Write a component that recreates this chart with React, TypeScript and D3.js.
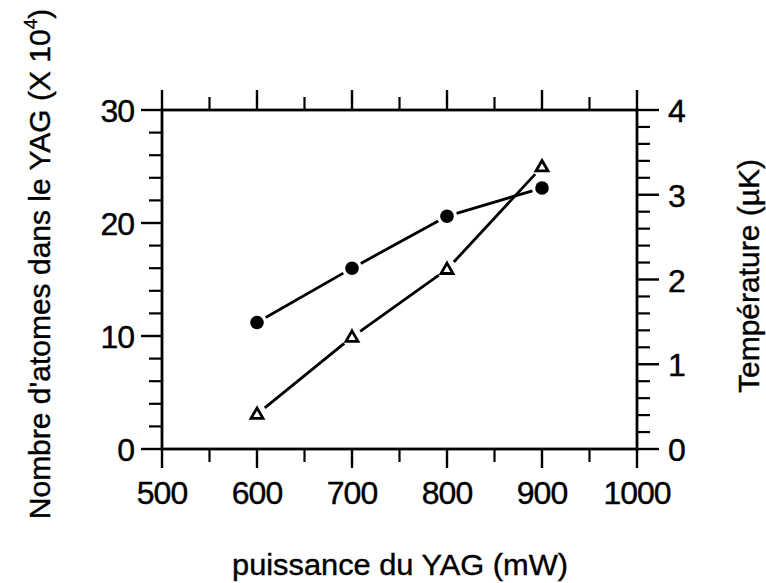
import React from "react";
import * as d3 from "d3";

const powers = [600, 700, 800, 900];
const atoms = [11.2, 16.0, 20.6, 23.1];
const temperature = [0.41, 1.32, 2.12, 3.33];
const xTicks = [500, 600, 700, 800, 900, 1000];
const leftTicks = [0, 10, 20, 30];
const rightTicks = [0, 1, 2, 3, 4];

const W = 766;
const H = 583;
const FONT = "'Liberation Sans', Arial, Helvetica, sans-serif";

export default function App() {
  const x = d3.scaleLinear().domain([500, 1000]).range([162, 637]);
  const yL = d3.scaleLinear().domain([0, 30]).range([449, 110]);
  const yR = d3.scaleLinear().domain([0, 4]).range([449, 110]);
  const [x0, x1] = x.range();
  const [yB, yT] = yL.range();

  const xMinor = d3.range(500, 1001, 50).filter((v) => v % 100 !== 0);
  const lMinor = d3.range(0, 31, 2).filter((v) => v % 10 !== 0);
  const rMinor = d3.range(0, 4.01, 0.2).filter((v) => Math.abs(v - Math.round(v)) > 1e-6);

  const segs = (ys: number[], yScale: d3.ScaleLinear<number, number>, gap: number) => {
    const out: JSX.Element[] = [];
    for (let i = 0; i < powers.length - 1; i++) {
      const ax = x(powers[i]), ay = yScale(ys[i]);
      const bx = x(powers[i + 1]), by = yScale(ys[i + 1]);
      const dx = bx - ax, dy = by - ay;
      const len = Math.hypot(dx, dy);
      const ux = dx / len, uy = dy / len;
      out.push(
        <line key={i} x1={ax + ux * gap} y1={ay + uy * gap} x2={bx - ux * gap} y2={by - uy * gap}
          stroke="#000" strokeWidth={2.8} />
      );
    }
    return out;
  };

  const tri = (cx: number, cy: number) => {
    const s = 12;
    const h = s * Math.sqrt(3) / 2;
    return `M${cx},${cy - h * 0.6} L${cx + s / 2},${cy + h * 0.4} L${cx - s / 2},${cy + h * 0.4} Z`;
  };

  const txt = { stroke: "#000", strokeWidth: 0.4 };

  return (
    <svg width={W} height={H} style={{ position: "absolute", left: 0, top: 0, background: "#fff" }}
      fontFamily={FONT}>
      <rect x={0} y={0} width={W} height={H} fill="#fff" />
      {/* frame */}
      <rect x={x0} y={yT} width={x1 - x0} height={yB - yT} fill="none" stroke="#000" strokeWidth={2.8} />

      {/* bottom & top ticks */}
      {xTicks.map((v) => (
        <g key={"xt" + v}>
          <line x1={x(v)} x2={x(v)} y1={yB} y2={yB + 19} stroke="#000" strokeWidth={2.4} />
          <line x1={x(v)} x2={x(v)} y1={yT} y2={yT - 20} stroke="#000" strokeWidth={2.4} />
          <text x={x(v)} y={504} textAnchor="middle" fontSize={32} letterSpacing={-1} {...txt}>{v}</text>
        </g>
      ))}
      {xMinor.map((v) => (
        <g key={"xm" + v}>
          <line x1={x(v)} x2={x(v)} y1={yB} y2={yB + 13} stroke="#000" strokeWidth={2.2} />
          <line x1={x(v)} x2={x(v)} y1={yT} y2={yT - 13} stroke="#000" strokeWidth={2.2} />
        </g>
      ))}

      {/* left axis */}
      {leftTicks.map((v) => (
        <g key={"lt" + v}>
          <line x1={x0} x2={x0 - 21} y1={yL(v)} y2={yL(v)} stroke="#000" strokeWidth={2.4} />
          <text x={134} y={yL(v) + 12} textAnchor="end" fontSize={32} letterSpacing={-1} {...txt}>{v}</text>
        </g>
      ))}
      {lMinor.map((v) => (
        <line key={"lm" + v} x1={x0} x2={x0 - 13} y1={yL(v)} y2={yL(v)} stroke="#000" strokeWidth={2.2} />
      ))}

      {/* right axis */}
      {rightTicks.map((v) => (
        <g key={"rt" + v}>
          <line x1={x1} x2={x1 + 22} y1={yR(v)} y2={yR(v)} stroke="#000" strokeWidth={2.4} />
          <text x={668} y={yR(v) + 12} textAnchor="start" fontSize={32} {...txt}>{v}</text>
        </g>
      ))}
      {rMinor.map((v) => (
        <line key={"rm" + v} x1={x1} x2={x1 + 13} y1={yR(v)} y2={yR(v)} stroke="#000" strokeWidth={2.2} />
      ))}

      {/* series: atoms (filled circles) */}
      {segs(atoms, yL, 10)}
      {atoms.map((v, i) => (
        <circle key={"c" + i} cx={x(powers[i])} cy={yL(v)} r={6.8} fill="#000" />
      ))}

      {/* series: temperature (open triangles) */}
      {segs(temperature, yR, 10)}
      {temperature.map((v, i) => (
        <path key={"t" + i} d={tri(x(powers[i]), yR(v))} fill="#fff" stroke="#000" strokeWidth={2.8}
          strokeLinejoin="miter" />
      ))}

      {/* axis titles */}
      <text x={400} y={575} textAnchor="middle" fontSize={30} textLength={336} lengthAdjust="spacingAndGlyphs" {...txt}>
        puissance du YAG (mW)
      </text>
      <text transform={`translate(50, 264) rotate(-90)`} textAnchor="middle" fontSize={30} {...txt}>
        Nombre d'atomes dans le YAG (X 10<tspan fontSize={19} dy={-13}>4</tspan><tspan dy={13}>)</tspan>
      </text>
      <text transform={`translate(759, 276) rotate(-90)`} textAnchor="middle" fontSize={30} {...txt}>
        Température (µK)
      </text>
    </svg>
  );
}
